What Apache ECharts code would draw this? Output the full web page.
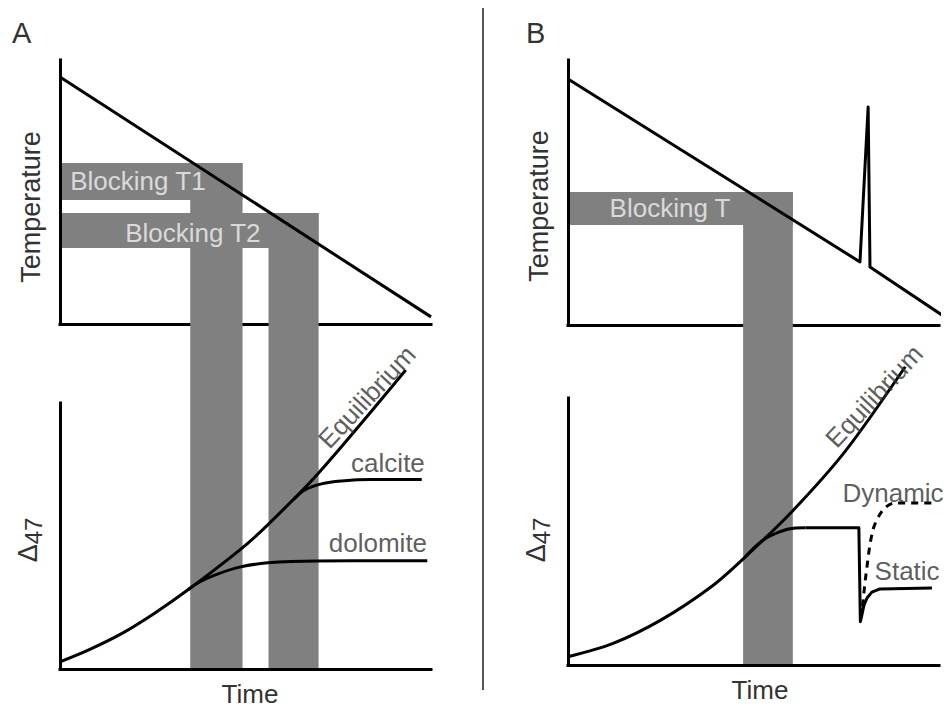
<!DOCTYPE html>
<html>
<head>
<meta charset="utf-8">
<script src="https://cdn.jsdelivr.net/npm/echarts@6/dist/echarts.min.js"></script>
<style>html,body{margin:0;padding:0;background:#fff}#c{width:947px;height:709px}</style>
</head>
<body>
<div id="c"></div>
<script>
// ---------------- DATA (schematic, arbitrary units, axes 0-100) ----------------
// Panel A - temperature history
const tempA_time = [0, 100];
const tempA_temp = [93.6, 2.7];
// Panel A - blocking temperature windows
const blockA_names = ['Blocking T1', 'Blocking T2'];
const blockA_tempHigh = [61.0, 42.0];
const blockA_tempLow = [47.0, 28.8];
const blockA_timeStart = [35.1, 56.2];
const blockA_timeEnd = [49.2, 69.7];
// Panel A - Δ47 curves
const eqA_time = [0, 7.6, 16.6, 25.5, 34.5, 48.4, 56.0, 69.4, 93.2];
const eqA_d47 = [2.7, 7.1, 13.3, 21.0, 29.8, 44.7, 54.2, 73.2, 112.4];
const calciteA_time = [63, 66, 70.5, 75.9, 84, 97.5];
const calciteA_d47 = [63.7, 67.3, 69.6, 70.7, 71.2, 71.2];
const dolomiteA_time = [34.5, 37.5, 41.7, 48.4, 56.0, 69.4, 99.0];
const dolomiteA_d47 = [29.8, 32.6, 35.3, 38.3, 39.9, 40.6, 40.7];

// Panel B - temperature history with heating spike
const tempB_time = [0, 78.7, 80.9, 81.4, 101.6];
const tempB_temp = [92.8, 23.8, 82.3, 21.9, 3.0];
// Panel B - blocking temperature window
const blockB_names = ['Blocking T'];
const blockB_tempHigh = [50.2];
const blockB_tempLow = [37.7];
const blockB_timeStart = [47.2];
const blockB_timeEnd = [60.6];
// Panel B - Δ47 curves
const eqB_time = [0, 12, 25, 38.8, 47.8, 60.4, 74.7, 90.9];
const eqB_d47 = [3.1, 8.0, 16.8, 29.5, 40.5, 57.5, 80, 111.7];
const kinB_time = [47.8, 52.3, 56.8, 61.3, 64];
const kinB_d47 = [40.5, 46.5, 49.8, 51.3, 51.4];
const staticB_time = [64, 78.4, 78.8, 79.2, 79.8, 80.6, 81.9, 84.1, 98.1];
const staticB_d47 = [51.4, 51.4, 16.2, 18.7, 22.5, 25.1, 27.3, 28.5, 28.8];
const dynamicB_time = [79.4, 80.3, 82.2, 84.9, 88.1, 98.1];
const dynamicB_d47 = [22.0, 33.7, 50.6, 58.1, 60.7, 60.7];

// Axis titles / panel letters
const panelLetters = ['A', 'B'];
const yTitleTop = 'Temperature';
const yTitleBottom = '{d|Δ}{s|47}';
const xTitle = 'Time';

// ---------------- LAYOUT / STYLE ----------------
const FONT = '"Liberation Sans", Arial, Helvetica, sans-serif';
const TXT = '#333';
const GRAY = '#808080';
const L = {
  A: {left: 60, width: 371, tTop: 60, tBottom: 324, dTop: 403, dBottom: 669},
  B: {left: 568, width: 371, tTop: 60, tBottom: 325, dTop: 398, dBottom: 665}
};
function overlayMin(p) { return 100 - (p.dBottom - p.tTop) / (p.tBottom - p.tTop) * 100; }
const ovMinA = overlayMin(L.A), ovMinB = overlayMin(L.B);

const grids = [];
['A', 'B'].forEach(k => {
  const p = L[k];
  grids.push({left: p.left, width: p.width, top: p.tTop, height: p.tBottom - p.tTop, outerBoundsMode: 'none'});
  grids.push({left: p.left, width: p.width, top: p.dTop, height: p.dBottom - p.dTop, outerBoundsMode: 'none'});
  grids.push({left: p.left, width: p.width, top: p.tTop, height: p.dBottom - p.tTop, outerBoundsMode: 'none'});
});

function baseAxis(gi, extra) {
  return Object.assign({
    type: 'value', gridIndex: gi, min: 0, max: 100,
    axisLine: {show: true, onZero: false, lineStyle: {color: '#000', width: 3, cap: 'square'}},
    axisTick: {show: false}, axisLabel: {show: false}, splitLine: {show: false}
  }, extra || {});
}
const nameStyle = (pad, fs) => ({fontSize: fs || 27, color: TXT, fontFamily: FONT, padding: pad});
const d47Rich = {
  d: {fontSize: 27, color: TXT, fontFamily: FONT, verticalAlign: 'bottom', padding: [0, 0, 4, 0]},
  s: {fontSize: 24, color: TXT, fontFamily: FONT, verticalAlign: 'bottom'}
};

const xAxes = [], yAxes = [];
[['A', 0, [0, 0, 0, 9], 30, 8], ['B', 3, [0, 0, 0, 13], 27, 17]].forEach(([k, gi, timePad, tPad, dPad]) => {
  // top (temperature)
  xAxes.push(baseAxis(gi, {z: 1}));
  yAxes.push(baseAxis(gi, {z: 6, name: yTitleTop, nameLocation: 'middle', nameRotate: 90, nameGap: 16,
    nameTextStyle: nameStyle([0, tPad, 0, 0])}));
  // bottom (Δ47)
  xAxes.push(baseAxis(gi + 1, {z: 6, name: xTitle, nameLocation: 'middle', nameGap: 12,
    nameTextStyle: nameStyle(timePad, 26)}));
  yAxes.push(baseAxis(gi + 1, {z: 6, name: yTitleBottom, nameLocation: 'middle', nameRotate: 90, nameGap: 15,
    nameTextStyle: {fontSize: 27, color: TXT, fontFamily: FONT, padding: [0, dPad, 0, 0], rich: d47Rich}}));
  // overlay for blocking windows (temperature units, extended down to the Δ47 time axis)
  xAxes.push({type: 'value', gridIndex: gi + 2, min: 0, max: 100, show: false});
  yAxes.push({type: 'value', gridIndex: gi + 2, min: k === 'A' ? ovMinA : ovMinB, max: 100, show: false});
});

const zip = (a, b) => a.map((v, i) => [v, b[i]]);
function line(name, ai, t, v, extra) {
  return Object.assign({
    name, type: 'line', xAxisIndex: ai, yAxisIndex: ai, data: zip(t, v),
    showSymbol: false, symbol: 'none', clip: false, z: 10, silent: true,
    lineStyle: {color: '#000', width: 3, join: 'round'}
  }, extra || {});
}
function blocks(ai, yMin, hi, lo, t0, t1) {
  return {
    type: 'custom', xAxisIndex: ai, yAxisIndex: ai, z: 3, silent: true, clip: false,
    encode: {x: [2, 3], y: [0, 1]},
    data: hi.map((h, i) => [h, lo[i], t0[i], t1[i]]),
    renderItem: function (params, api) {
      const h = api.value(0), l = api.value(1), s = api.value(2), e = api.value(3);
      const a = api.coord([0, h]), b = api.coord([e, l]);
      const c = api.coord([s, h]), d = api.coord([e, yMin]);
      return {type: 'group', children: [
        {type: 'rect', shape: {x: a[0], y: a[1], width: b[0] - a[0], height: b[1] - a[1]}, style: {fill: GRAY}},
        {type: 'rect', shape: {x: c[0], y: c[1], width: d[0] - c[0], height: d[1] - c[1]}, style: {fill: GRAY}}
      ]};
    }
  };
}
function labels(ai, items) {
  return {
    type: 'scatter', xAxisIndex: ai, yAxisIndex: ai, symbolSize: 1, clip: false, z: 12, silent: true,
    itemStyle: {color: 'rgba(0,0,0,0)'},
    data: items.map(it => ({value: [it.x, it.y], label: {show: true, position: 'inside', formatter: it.text,
      rotate: it.rotate || 0, color: it.color || TXT, fontSize: 26, fontFamily: FONT}}))
  };
}

// annotation placement (data coordinates of each panel)
const annA_T = [
  {text: blockA_names[0], x: 21.0, y: 54.2, color: '#f2f2f2'},
  {text: blockA_names[1], x: 35.8, y: 34.5, color: '#f2f2f2'}
];
const annA_D = [
  {text: 'Equilibrium', x: 82.7, y: 102.3, rotate: 47},
  {text: 'calcite', x: 88.4, y: 77.4},
  {text: 'dolomite', x: 85.7, y: 47.4}
];
const annB_T = [{text: blockB_names[0], x: 27.5, y: 44.2, color: '#f2f2f2'}];
const annB_D = [
  {text: 'Equilibrium', x: 82.5, y: 100.7, rotate: 47},
  {text: 'Dynamic', x: 87.6, y: 64.4},
  {text: 'Static', x: 91.4, y: 35.2}
];

const series = [
  blocks(2, ovMinA, blockA_tempHigh, blockA_tempLow, blockA_timeStart, blockA_timeEnd),
  blocks(5, ovMinB, blockB_tempHigh, blockB_tempLow, blockB_timeStart, blockB_timeEnd),
  line('Temperature A', 0, tempA_time, tempA_temp),
  line('Equilibrium A', 1, eqA_time, eqA_d47, {smooth: 0.3}),
  line('calcite', 1, calciteA_time, calciteA_d47, {smooth: 0.4}),
  line('dolomite', 1, dolomiteA_time, dolomiteA_d47, {smooth: 0.4}),
  line('Temperature B', 3, tempB_time, tempB_temp),
  line('Equilibrium B', 4, eqB_time, eqB_d47, {smooth: 0.3}),
  line('Kinetic B', 4, kinB_time, kinB_d47, {smooth: 0.4}),
  line('Static', 4, staticB_time, staticB_d47),
  line('Dynamic', 4, dynamicB_time, dynamicB_d47, {smooth: 0.3, lineStyle: {color: '#000', width: 3, type: [7, 6]}}),
  labels(0, annA_T), labels(1, annA_D), labels(3, annB_T), labels(4, annB_D)
];

const chart = echarts.init(document.getElementById('c'), null, {renderer: 'svg'});
chart.setOption({
  animation: false,
  backgroundColor: '#fff',
  title: [
    {text: panelLetters[0], left: 7, top: 13, padding: 5, textStyle: {fontSize: 29, fontWeight: 'normal', color: TXT, fontFamily: FONT}},
    {text: panelLetters[1], left: 521, top: 13, padding: 5, textStyle: {fontSize: 29, fontWeight: 'normal', color: TXT, fontFamily: FONT}}
  ],
  graphic: [{type: 'line', shape: {x1: 483, y1: 8, x2: 483, y2: 690}, style: {stroke: '#555', lineWidth: 2}, silent: true}],
  grid: grids,
  xAxis: xAxes,
  yAxis: yAxes,
  series: series
});
</script>
</body>
</html>
